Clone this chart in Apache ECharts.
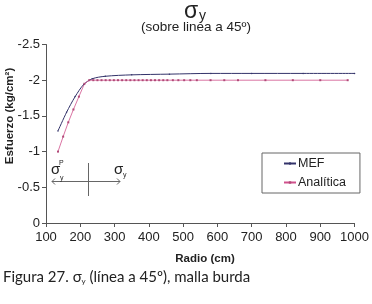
<!DOCTYPE html>
<html>
<head>
<meta charset="utf-8">
<script src="https://cdn.jsdelivr.net/npm/echarts@6/dist/echarts.min.js"></script>
<style>
  html, body { margin: 0; padding: 0; background: #fff; }
  #chart { width: 372px; height: 304px; }
</style>
</head>
<body>
<div id="chart"></div>
<script>
// radio (cm) y esfuerzo (kg/cm2)
var radioMef = [135, 160, 185, 210, 235, 273, 350, 460, 581, 700, 850, 1000];
var esfMef = [-1.29, -1.55, -1.77, -1.94, -2.02, -2.055, -2.075, -2.085, -2.095, -2.095, -2.095, -2.095];

var radioAna = [135, 150, 165, 180, 196, 212, 226, 238, 250, 262, 274, 286, 298, 310, 322, 334, 346, 358, 370,
	382, 394, 406, 418, 430, 442, 454, 470, 486, 503, 521, 540, 580, 620, 660, 740, 820, 900, 980];
var esfAna = [-1, -1.21, -1.41, -1.59, -1.77, -1.95, -2, -2, -2, -2, -2, -2, -2, -2, -2, -2, -2, -2, -2,
	-2, -2, -2, -2, -2, -2, -2, -2, -2, -2, -2, -2, -2, -2, -2, -2, -2, -2, -2];

var yTicks = [-2.5, -2, -1.5, -1, -0.5, 0];
var xTicks = [100, 200, 300, 400, 500, 600, 700, 800, 900, 1000];

var colMef = '#33336a';
var colAna = '#d0508c';
var font = 'Arial, "Liberation Sans", sans-serif';

function pares(xs, ys){
	return xs.map(function(x, i){ return [x, ys[i]]; });
}

var chart = echarts.init(document.getElementById('chart'));
var option = {
	animation: false,
	backgroundColor: '#fff',
	grid: { left: 46, right: 15, top: 44.5, bottom: 81 },
	xAxis: {
		type: 'value',
		min: xTicks[0],
		max: xTicks[xTicks.length - 1],
		interval: 100,
		axisLine: { lineStyle: { color: '#555', width: 1 } },
		axisTick: { length: 4, lineStyle: { color: '#555' } },
		axisLabel: {
			margin: 8, color: '#222', fontSize: 13, fontFamily: font,
			formatter: function(val){ return String(val); }
		},
		splitLine: { show: false }
	},
	yAxis: {
		type: 'value',
		inverse: true,
		min: yTicks[0],
		max: yTicks[yTicks.length - 1],
		interval: 0.5,
		axisLine: { show: true, lineStyle: { color: '#555', width: 1 } },
		axisTick: { show: true, length: 4, lineStyle: { color: '#555' } },
		axisLabel: {
			margin: 6, color: '#222', fontSize: 13, fontFamily: font,
			formatter: function(val){ return String(val); }
		},
		splitLine: { show: false }
	},
	legend: {
		orient: 'vertical',
		left: 262,
		top: 153,
		width: 95,
		height: 38,
		padding: [4, 14, 4, 21],
		itemGap: 6,
		itemWidth: 12,
		itemHeight: 3,
		borderColor: '#666',
		borderWidth: 1,
		textStyle: { color: '#222', fontSize: 12.5, fontFamily: font, padding: [0, 0, 0, -3] },
		data: ['MEF', 'Analítica']
	},
	series: [
		{
			name: 'MEF',
			type: 'line',
			data: pares(radioMef, esfMef),
			smooth: 0.3,
			symbol: 'circle',
			symbolSize: 1.5,
			lineStyle: { color: colMef, width: 1 },
			itemStyle: { color: colMef }
		},
		{
			name: 'Analítica',
			type: 'line',
			data: pares(radioAna, esfAna),
			symbol: 'rect',
			symbolSize: 2,
			lineStyle: { color: colAna, width: 0.8 },
			itemStyle: { color: '#b04a78' }
		}
	],
	graphic: [
		// titulo
		{ type: 'text', left: 184, top: 0, style: { text: 'σ', fontSize: 23, fontFamily: font, fill: '#222' } },
		{ type: 'text', left: 199, top: 9, style: { text: 'y', fontSize: 14, fontFamily: font, fill: '#222' } },
		{ type: 'text', x: 196, y: 27, style: { text: '(sobre linea a 45º)', fontSize: 13.5, fontFamily: font, fill: '#222', align: 'center', verticalAlign: 'middle' } },
		// nombres de ejes
		{ type: 'text', x: 10, y: 116, rotation: Math.PI / 2, style: { text: 'Esfuerzo (kg/cm²)', fontSize: 11.5, fontWeight: 'bold', fontFamily: font, fill: '#222', align: 'center', verticalAlign: 'middle' } },
		{ type: 'text', x: 205, y: 259, style: { text: 'Radio (cm)', fontSize: 11.5, fontWeight: 'bold', fontFamily: font, fill: '#222', align: 'center', verticalAlign: 'middle' } },
		// esquema dentro del grafico
		{ type: 'line', shape: { x1: 52, y1: 181.5, x2: 120, y2: 181.5 }, style: { stroke: '#666', lineWidth: 1 } },
		{ type: 'polyline', shape: { points: [[55, 178.5], [52, 181.5], [55, 184.5]] }, style: { stroke: '#666', lineWidth: 1, fill: null } },
		{ type: 'polyline', shape: { points: [[117, 178.5], [120, 181.5], [117, 184.5]] }, style: { stroke: '#666', lineWidth: 1, fill: null } },
		{ type: 'line', shape: { x1: 88.5, y1: 163, x2: 88.5, y2: 196 }, style: { stroke: '#666', lineWidth: 1 } },
		{ type: 'text', left: 51, top: 162, style: { text: 'σ', fontSize: 15, fontFamily: font, fill: '#222' } },
		{ type: 'text', left: 59, top: 160, style: { text: 'P', fontSize: 7, fontFamily: font, fill: '#222' } },
		{ type: 'text', left: 60, top: 175, style: { text: 'y', fontSize: 7, fontFamily: font, fill: '#222' } },
		{ type: 'text', left: 114, top: 162, style: { text: 'σ', fontSize: 15, fontFamily: font, fill: '#222' } },
		{ type: 'text', left: 123, top: 172, style: { text: 'y', fontSize: 7, fontFamily: font, fill: '#222' } },
		// pie de figura
		{
			type: 'text', left: 3, top: 270,
			style: {
				text: 'Figura 27. σ{sub|y} (línea a 45º), malla burda',
				fontSize: 15, fontFamily: 'Lato, "Open Sans", sans-serif', fill: '#222',
				rich: { sub: { fontSize: 8, fontFamily: 'Lato, sans-serif', fill: '#222', padding: [8, 0, 0, 0] } }
			}
		}
	]
};
chart.setOption(option);
</script>
</body>
</html>
